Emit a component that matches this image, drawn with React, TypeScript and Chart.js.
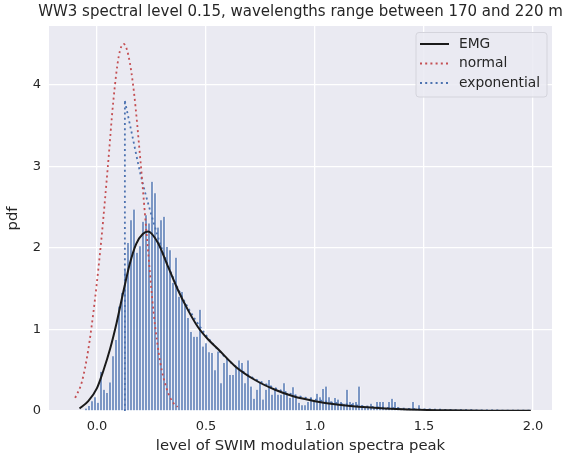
import React, { useEffect, useRef } from "react";
import { Chart, registerables } from "chart.js";

Chart.register(...registerables);

const TITLE = "WW3 spectral level 0.15, wavelengths range between 170 and 220 m";
const X_LABEL = "level of SWIM modulation spectra peak";
const Y_LABEL = "pdf";
const X_TICKS = [0, 0.5, 1.0, 1.5, 2.0];
const Y_TICKS = [0, 1, 2, 3, 4];
const LEGEND_LABELS = ["EMG", "normal", "exponential"];

// histogram (density) bins
const binStart = -0.0505;
const binWidth = 0.01376;
const histDensity = [
  0.03, 0.06, 0.12, 0.17, 0.1, 0.48, 0.26, 0.22, 0.35, 0.67,
  0.87, 1.28, 1.45, 1.73, 2.06, 2.34, 2.47, 1.94, 2.02, 2.32,
  2.4, 2.3, 2.81, 2.67, 2.25, 2.34, 2.38, 2.01, 1.97, 1.57,
  1.88, 1.4, 1.46, 1.32, 1.14, 0.97, 0.91, 0.91, 1.24, 0.79,
  0.83, 0.72, 0.71, 0.5, 0.73, 0.34, 0.59, 0.65, 0.44, 0.44,
  0.54, 0.62, 0.59, 0.34, 0.62, 0.3, 0.15, 0.26, 0.36, 0.14,
  0.26, 0.38, 0.2, 0.26, 0.2, 0.2, 0.34, 0.22, 0.16, 0.29,
  0.16, 0.1, 0.07, 0.07, 0.11, 0.17, 0.12, 0.21, 0.17, 0.27,
  0.3, 0.17, 0.11, 0.16, 0.14, 0.11, 0.09, 0.26, 0.11, 0.1,
  0.11, 0.3, 0.05, 0.04, 0.05, 0.09, 0.04, 0.11, 0.11, 0.11,
  0.04, 0.11, 0.15, 0.11, 0.05, 0.03, 0.02, 0.02, 0.03, 0.11,
  0.03, 0.07, 0.02, 0.01, 0.01,
];

// EMG fit
const emgX = [-0.08, -0.04, 0.0, 0.03, 0.06, 0.09, 0.12, 0.15, 0.18, 0.21, 0.235, 0.28, 0.326, 0.372, 0.417, 0.463, 0.509, 0.555, 0.633, 0.725, 0.817, 0.9, 1.0, 1.1, 1.24, 1.4, 1.6, 1.8, 1.99];
const emgY = [0.03, 0.12, 0.28, 0.5, 0.76, 1.08, 1.45, 1.8, 2.05, 2.17, 2.2, 2.06, 1.77, 1.48, 1.24, 1.03, 0.88, 0.76, 0.55, 0.38, 0.26, 0.18, 0.12, 0.08, 0.045, 0.02, 0.009, 0.004, 0.002];

// normal fit
const normX = [-0.1, -0.07, -0.04, -0.01, 0.02, 0.05, 0.075, 0.1, 0.122, 0.145, 0.17, 0.2, 0.23, 0.26, 0.29, 0.32, 0.35, 0.37];
const normY = [0.16, 0.35, 0.75, 1.35, 2.1, 3.0, 3.8, 4.35, 4.5, 4.35, 3.9, 3.05, 2.1, 1.2, 0.6, 0.27, 0.1, 0.05];

// exponential fit
const expStartX = 0.128;
const expPeak = 3.8;
const expX = [0.128, 0.16, 0.2, 0.25, 0.3, 0.35, 0.4, 0.5, 0.6, 0.7, 0.8, 0.9, 1.0, 1.2, 1.4, 1.6, 1.8, 1.99];
const expY = [3.8, 3.4, 2.9, 2.4, 1.97, 1.63, 1.35, 0.93, 0.63, 0.43, 0.3, 0.2, 0.14, 0.065, 0.03, 0.014, 0.007, 0.003];

const TEXT = "#262626";
const FONT = "'DejaVu Sans', sans-serif";
const BLUE = "#4C72B0";
const RED = "#C44E52";
const DARK = "#1a1a1a";

export default function App() {
  const ref = useRef<HTMLCanvasElement | null>(null);

  useEffect(() => {
    document.body.style.margin = "0";
    const canvas = ref.current!;

    const bgPlugin = {
      id: "bg",
      beforeDraw(chart: any) {
        const { ctx, chartArea: a } = chart;
        ctx.save();
        ctx.fillStyle = "#EAEAF2";
        ctx.fillRect(a.left, a.top, a.right - a.left, a.bottom - a.top);
        ctx.restore();
      },
      afterDraw(chart: any) {
        const { ctx, chartArea: a } = chart;
        ctx.save();
        // title
        ctx.fillStyle = TEXT;
        ctx.font = `15px ${FONT}`;
        ctx.textAlign = "center";
        ctx.textBaseline = "middle";
        ctx.fillText(TITLE, (a.left + a.right) / 2, 12);
        // legend
        const bx = 416, by = 32.5, bw = 131, bh = 64.5, r = 3;
        ctx.beginPath();
        ctx.moveTo(bx + r, by);
        ctx.arcTo(bx + bw, by, bx + bw, by + bh, r);
        ctx.arcTo(bx + bw, by + bh, bx, by + bh, r);
        ctx.arcTo(bx, by + bh, bx, by, r);
        ctx.arcTo(bx, by, bx + bw, by, r);
        ctx.closePath();
        ctx.fillStyle = "rgba(234,234,242,0.85)";
        ctx.fill();
        ctx.strokeStyle = "#d4d4dc";
        ctx.lineWidth = 1;
        ctx.stroke();
        const rows = [44, 63.5, 83];
        const styles = [
          { c: DARK, dash: [] as number[] },
          { c: RED, dash: [2, 3.2] },
          { c: BLUE, dash: [2, 3.2] },
        ];
        rows.forEach((y, i) => {
          ctx.beginPath();
          ctx.setLineDash(styles[i].dash);
          ctx.strokeStyle = styles[i].c;
          ctx.lineWidth = i === 0 ? 2 : 1.8;
          ctx.moveTo(420, y);
          ctx.lineTo(449, y);
          ctx.stroke();
          ctx.setLineDash([]);
          ctx.fillStyle = TEXT;
          ctx.font = `13.8px ${FONT}`;
          ctx.textAlign = "left";
          ctx.textBaseline = "middle";
          ctx.fillText(LEGEND_LABELS[i], 459, y);
        });
        ctx.restore();
      },
    };

    const chart = new Chart(canvas, {
      type: "bar",
      data: {
        datasets: [
          {
            type: "line",
            data: emgX.map((x, i) => ({ x, y: emgY[i] })),
            borderColor: DARK,
            borderWidth: 2,
            pointRadius: 0,
            cubicInterpolationMode: "monotone",
            order: 1,
          } as any,
          {
            type: "line",
            data: normX.map((x, i) => ({ x, y: normY[i] })),
            borderColor: RED,
            borderWidth: 1.8,
            borderDash: [2, 3.2],
            pointRadius: 0,
            cubicInterpolationMode: "monotone",
            order: 2,
          } as any,
          {
            type: "line",
            data: [
              { x: expStartX, y: 0 },
              { x: expStartX, y: expPeak },
            ],
            borderColor: BLUE,
            borderWidth: 1.8,
            borderDash: [2, 3.2],
            pointRadius: 0,
            tension: 0,
            order: 3,
          } as any,
          {
            type: "line",
            data: expX.map((x, i) => ({ x, y: expY[i] })),
            borderColor: BLUE,
            borderWidth: 1.8,
            borderDash: [2, 3.2],
            pointRadius: 0,
            cubicInterpolationMode: "monotone",
            order: 3,
          } as any,
          {
            type: "bar",
            data: histDensity.map((y, i) => ({ x: binStart + i * binWidth, y })),
            backgroundColor: "rgba(76,114,176,0.72)",
            borderColor: "rgba(255,255,255,0.7)",
            borderWidth: { left: 0.8, right: 0.8, top: 0, bottom: 0 },
            borderSkipped: "start",
            barPercentage: 1,
            categoryPercentage: 1,
            order: 10,
          } as any,
        ],
      },
      options: {
        animation: false,
        responsive: false,
        maintainAspectRatio: false,
        layout: { padding: { top: 26, right: 12, left: 0, bottom: 0 } },
        plugins: {
          legend: { display: false },
          tooltip: { enabled: false },
          title: { display: false },
        },
        scales: {
          x: {
            type: "linear",
            min: -0.22,
            max: 2.087,
            offset: false,
            grid: { color: "#ffffff", lineWidth: 1.3, drawTicks: false, offset: false },
            border: { display: false },
            afterBuildTicks: (s: any) => {
              s.ticks = X_TICKS.map((v) => ({ value: v }));
            },
            afterFit: (s: any) => {
              s.height = 47;
            },
            ticks: {
              padding: 8,
              color: TEXT,
              font: { family: FONT, size: 13 },
              maxRotation: 0,
              callback: (v: any) => Number(v).toFixed(1),
            },
            title: {
              display: true,
              text: X_LABEL,
              color: TEXT,
              font: { family: FONT, size: 14.8 },
              padding: { top: 0, bottom: 3 },
            },
          },
          y: {
            type: "linear",
            min: 0,
            max: 4.72,
            grid: { color: "#ffffff", lineWidth: 1.3, drawTicks: false },
            border: { display: false },
            afterBuildTicks: (s: any) => {
              s.ticks = Y_TICKS.map((v) => ({ value: v }));
            },
            afterFit: (s: any) => {
              s.width = 49;
            },
            ticks: {
              padding: 8,
              color: TEXT,
              font: { family: FONT, size: 13 },
              callback: (v: any) => String(v),
            },
            title: {
              display: true,
              text: Y_LABEL,
              color: TEXT,
              font: { family: FONT, size: 14.8 },
              padding: { top: 4, bottom: 0 },
            },
          },
        },
      } as any,
      plugins: [bgPlugin],
    });

    return () => chart.destroy();
  }, []);

  return (
    <div style={{ width: 564, height: 458 }}>
      <canvas ref={ref} width={564} height={458} style={{ display: "block" }} />
    </div>
  );
}
